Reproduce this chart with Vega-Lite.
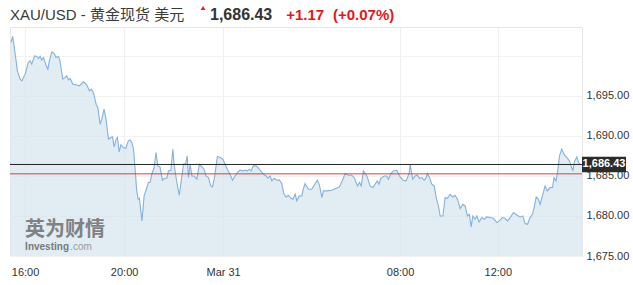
{
  "$schema": "https://vega.github.io/schema/vega-lite/v6.json",
  "width": 572,
  "height": 229,
  "autosize": "none",
  "padding": {"left": 10, "top": 27, "right": 51, "bottom": 29},
  "background": "white",
  "datasets": {
    "price": [
      {"t": -0.57, "v": 1701.68}, {"t": -0.50, "v": 1702.43}, {"t": -0.40, "v": 1700.21}, {"t": -0.31, "v": 1698.13},
      {"t": -0.20, "v": 1697.09}, {"t": -0.13, "v": 1696.88}, {"t": 0.00, "v": 1697.71}, {"t": 0.13, "v": 1699.18},
      {"t": 0.20, "v": 1699.38}, {"t": 0.27, "v": 1698.96}, {"t": 0.38, "v": 1700.00}, {"t": 0.47, "v": 1699.93},
      {"t": 0.54, "v": 1699.68}, {"t": 0.61, "v": 1699.93}, {"t": 0.67, "v": 1699.46}, {"t": 0.74, "v": 1699.80},
      {"t": 0.84, "v": 1698.88}, {"t": 0.92, "v": 1698.34}, {"t": 0.98, "v": 1699.38}, {"t": 1.08, "v": 1700.50},
      {"t": 1.17, "v": 1700.30}, {"t": 1.25, "v": 1699.80}, {"t": 1.35, "v": 1699.93}, {"t": 1.41, "v": 1699.38},
      {"t": 1.52, "v": 1697.09}, {"t": 1.62, "v": 1697.30}, {"t": 1.68, "v": 1697.50}, {"t": 1.75, "v": 1697.00},
      {"t": 1.82, "v": 1697.18}, {"t": 1.93, "v": 1696.46}, {"t": 2.06, "v": 1696.38}, {"t": 2.19, "v": 1696.25},
      {"t": 2.36, "v": 1696.75}, {"t": 2.49, "v": 1696.38}, {"t": 2.60, "v": 1695.63}, {"t": 2.67, "v": 1695.84},
      {"t": 2.76, "v": 1695.43}, {"t": 2.87, "v": 1693.96}, {"t": 2.94, "v": 1693.55}, {"t": 3.03, "v": 1691.46},
      {"t": 3.10, "v": 1692.09}, {"t": 3.19, "v": 1693.34}, {"t": 3.27, "v": 1692.09}, {"t": 3.37, "v": 1689.59},
      {"t": 3.46, "v": 1689.80}, {"t": 3.53, "v": 1689.88}, {"t": 3.60, "v": 1688.63}, {"t": 3.68, "v": 1689.59},
      {"t": 3.73, "v": 1689.80}, {"t": 3.80, "v": 1688.00}, {"t": 3.87, "v": 1688.88}, {"t": 3.97, "v": 1688.55},
      {"t": 4.07, "v": 1688.46}, {"t": 4.17, "v": 1689.38}, {"t": 4.24, "v": 1689.50}, {"t": 4.31, "v": 1689.18},
      {"t": 4.38, "v": 1688.34}, {"t": 4.44, "v": 1686.05}, {"t": 4.51, "v": 1683.13}, {"t": 4.57, "v": 1682.09},
      {"t": 4.62, "v": 1682.21}, {"t": 4.72, "v": 1679.38}, {"t": 4.81, "v": 1682.50}, {"t": 4.92, "v": 1683.55},
      {"t": 4.98, "v": 1684.18}, {"t": 5.05, "v": 1684.18}, {"t": 5.12, "v": 1685.21}, {"t": 5.21, "v": 1686.05},
      {"t": 5.29, "v": 1687.93}, {"t": 5.36, "v": 1686.25}, {"t": 5.45, "v": 1686.13}, {"t": 5.55, "v": 1684.46},
      {"t": 5.63, "v": 1684.71}, {"t": 5.73, "v": 1684.71}, {"t": 5.79, "v": 1685.63}, {"t": 5.89, "v": 1685.71},
      {"t": 5.97, "v": 1688.34}, {"t": 6.02, "v": 1686.46}, {"t": 6.10, "v": 1684.80}, {"t": 6.17, "v": 1683.55},
      {"t": 6.23, "v": 1682.59}, {"t": 6.30, "v": 1684.18}, {"t": 6.40, "v": 1686.46}, {"t": 6.49, "v": 1686.55},
      {"t": 6.55, "v": 1687.50}, {"t": 6.60, "v": 1684.80}, {"t": 6.67, "v": 1686.46}, {"t": 6.74, "v": 1685.00},
      {"t": 6.83, "v": 1685.00}, {"t": 6.94, "v": 1684.59}, {"t": 7.04, "v": 1686.46}, {"t": 7.14, "v": 1686.13},
      {"t": 7.23, "v": 1685.84}, {"t": 7.31, "v": 1685.00}, {"t": 7.41, "v": 1684.80}, {"t": 7.50, "v": 1683.75},
      {"t": 7.57, "v": 1683.63}, {"t": 7.65, "v": 1684.80}, {"t": 7.77, "v": 1687.43}, {"t": 7.88, "v": 1687.30},
      {"t": 7.99, "v": 1687.09}, {"t": 8.08, "v": 1686.46}, {"t": 8.17, "v": 1685.84}, {"t": 8.28, "v": 1685.21},
      {"t": 8.38, "v": 1684.46}, {"t": 8.48, "v": 1685.00}, {"t": 8.58, "v": 1685.43}, {"t": 8.69, "v": 1685.75},
      {"t": 8.78, "v": 1685.63}, {"t": 8.89, "v": 1685.71}, {"t": 8.98, "v": 1685.63}, {"t": 9.06, "v": 1685.84},
      {"t": 9.13, "v": 1685.63}, {"t": 9.22, "v": 1686.25}, {"t": 9.33, "v": 1686.25}, {"t": 9.43, "v": 1685.96},
      {"t": 9.52, "v": 1685.63}, {"t": 9.63, "v": 1685.21}, {"t": 9.74, "v": 1685.00}, {"t": 9.81, "v": 1684.71},
      {"t": 9.90, "v": 1685.00}, {"t": 9.97, "v": 1684.38}, {"t": 10.06, "v": 1684.71}, {"t": 10.17, "v": 1684.46},
      {"t": 10.27, "v": 1684.50}, {"t": 10.37, "v": 1684.05}, {"t": 10.46, "v": 1682.71}, {"t": 10.55, "v": 1682.38},
      {"t": 10.64, "v": 1682.59}, {"t": 10.74, "v": 1682.21}, {"t": 10.82, "v": 1682.09}, {"t": 10.91, "v": 1682.71},
      {"t": 10.98, "v": 1681.88}, {"t": 11.07, "v": 1682.50}, {"t": 11.18, "v": 1682.50}, {"t": 11.22, "v": 1683.13},
      {"t": 11.31, "v": 1684.05}, {"t": 11.45, "v": 1683.34}, {"t": 11.58, "v": 1683.34}, {"t": 11.72, "v": 1684.05},
      {"t": 11.81, "v": 1684.46}, {"t": 11.89, "v": 1683.88}, {"t": 11.99, "v": 1682.30}, {"t": 12.05, "v": 1683.13},
      {"t": 12.19, "v": 1683.13}, {"t": 12.39, "v": 1683.21}, {"t": 12.57, "v": 1683.46}, {"t": 12.70, "v": 1683.63},
      {"t": 12.84, "v": 1684.59}, {"t": 12.93, "v": 1685.30}, {"t": 13.06, "v": 1685.09}, {"t": 13.20, "v": 1685.09},
      {"t": 13.31, "v": 1684.71}, {"t": 13.43, "v": 1683.75}, {"t": 13.51, "v": 1684.18}, {"t": 13.58, "v": 1683.75},
      {"t": 13.67, "v": 1685.63}, {"t": 13.81, "v": 1685.00}, {"t": 13.94, "v": 1683.75}, {"t": 14.05, "v": 1683.55},
      {"t": 14.14, "v": 1683.96}, {"t": 14.23, "v": 1684.38}, {"t": 14.30, "v": 1683.96}, {"t": 14.37, "v": 1684.71},
      {"t": 14.51, "v": 1685.00}, {"t": 14.61, "v": 1685.00}, {"t": 14.68, "v": 1684.59}, {"t": 14.78, "v": 1685.30},
      {"t": 14.88, "v": 1685.63}, {"t": 15.02, "v": 1685.71}, {"t": 15.15, "v": 1684.88}, {"t": 15.28, "v": 1684.46},
      {"t": 15.39, "v": 1684.38}, {"t": 15.45, "v": 1684.80}, {"t": 15.52, "v": 1685.43}, {"t": 15.56, "v": 1686.46},
      {"t": 15.60, "v": 1685.63}, {"t": 15.66, "v": 1684.59}, {"t": 15.76, "v": 1685.00}, {"t": 15.85, "v": 1685.13},
      {"t": 15.93, "v": 1684.71}, {"t": 16.03, "v": 1684.80}, {"t": 16.12, "v": 1684.46}, {"t": 16.20, "v": 1684.71},
      {"t": 16.25, "v": 1685.30}, {"t": 16.34, "v": 1684.80}, {"t": 16.43, "v": 1683.96}, {"t": 16.53, "v": 1683.75},
      {"t": 16.61, "v": 1682.30}, {"t": 16.70, "v": 1681.25}, {"t": 16.77, "v": 1680.00}, {"t": 16.88, "v": 1680.00},
      {"t": 16.97, "v": 1682.30}, {"t": 17.06, "v": 1682.21}, {"t": 17.17, "v": 1682.71}, {"t": 17.28, "v": 1682.38},
      {"t": 17.37, "v": 1682.59}, {"t": 17.47, "v": 1682.09}, {"t": 17.58, "v": 1680.93}, {"t": 17.68, "v": 1681.46},
      {"t": 17.78, "v": 1681.25}, {"t": 17.87, "v": 1680.00}, {"t": 17.95, "v": 1680.21}, {"t": 18.02, "v": 1678.63},
      {"t": 18.09, "v": 1680.00}, {"t": 18.18, "v": 1679.59}, {"t": 18.25, "v": 1680.00}, {"t": 18.34, "v": 1679.25},
      {"t": 18.45, "v": 1679.80}, {"t": 18.55, "v": 1679.59}, {"t": 18.65, "v": 1679.88}, {"t": 18.79, "v": 1679.80},
      {"t": 18.92, "v": 1679.71}, {"t": 19.06, "v": 1679.18}, {"t": 19.16, "v": 1679.38}, {"t": 19.28, "v": 1679.80},
      {"t": 19.39, "v": 1679.71}, {"t": 19.49, "v": 1679.38}, {"t": 19.60, "v": 1679.80}, {"t": 19.73, "v": 1680.43},
      {"t": 19.87, "v": 1680.13}, {"t": 20.00, "v": 1679.88}, {"t": 20.11, "v": 1680.00}, {"t": 20.20, "v": 1679.05},
      {"t": 20.30, "v": 1678.96}, {"t": 20.40, "v": 1679.80}, {"t": 20.50, "v": 1680.21}, {"t": 20.58, "v": 1681.25},
      {"t": 20.65, "v": 1682.38}, {"t": 20.74, "v": 1682.09}, {"t": 20.81, "v": 1681.46}, {"t": 20.90, "v": 1682.50},
      {"t": 21.01, "v": 1683.75}, {"t": 21.10, "v": 1683.13}, {"t": 21.21, "v": 1683.55}, {"t": 21.31, "v": 1683.55},
      {"t": 21.37, "v": 1684.80}, {"t": 21.45, "v": 1684.38}, {"t": 21.51, "v": 1685.43}, {"t": 21.59, "v": 1687.50},
      {"t": 21.68, "v": 1688.34}, {"t": 21.79, "v": 1687.63}, {"t": 21.89, "v": 1687.30}, {"t": 21.99, "v": 1686.88},
      {"t": 22.13, "v": 1685.63}, {"t": 22.19, "v": 1686.75}, {"t": 22.29, "v": 1687.38}, {"t": 22.36, "v": 1686.68},
      {"t": 22.42, "v": 1686.46}, {"t": 22.50, "v": 1686.43}
    ],
    "last": [{"t": 22.5, "v": 1686.43, "label": "1,686.43"}],
    "one": [{"dummy": 1}]
  },
  "config": {
    "view": {"stroke": "#e6e6e6"},
    "font": "Liberation Sans, Noto Sans CJK SC"
  },
  "layer": [
    {
      "data": {"name": "price"},
      "mark": {"type": "area", "color": "#d6e4ee", "fillOpacity": 0.7, "clip": true},
      "encoding": {
        "x": {
          "field": "t", "type": "quantitative",
          "scale": {"domain": [-0.61, 22.5], "nice": false, "zero": false},
          "axis": {
            "values": [0, 4, 8, 15.15, 19.1],
            "labelExpr": "datum.value == 0 ? '16:00' : datum.value == 4 ? '20:00' : datum.value == 8 ? 'Mar 31' : datum.value < 16 ? '08:00' : '12:00'",
            "title": null, "ticks": false, "domain": false,
            "grid": true, "gridColor": "#efefef",
            "labelFontSize": 11, "labelColor": "#333333", "labelPadding": 10, "labelFlush": false
          }
        },
        "y": {
          "field": "v", "type": "quantitative",
          "scale": {"domain": [1675, 1703.6], "nice": false, "zero": false},
          "axis": {
            "orient": "right",
            "values": [1675, 1680, 1685, 1690, 1695, 1700],
            "labelExpr": "datum.value > 1697 ? '' : format(datum.value, ',.2f')",
            "title": null, "ticks": false, "domain": false,
            "grid": true, "gridColor": "#f2f2f2",
            "labelFontSize": 11, "labelColor": "#333333", "labelPadding": 4
          }
        }
      }
    },
    {
      "data": {"name": "price"},
      "mark": {"type": "line", "color": "#82b2dd", "strokeWidth": 1.1, "clip": true},
      "encoding": {
        "x": {"field": "t", "type": "quantitative"},
        "y": {"field": "v", "type": "quantitative"}
      }
    },
    {
      "data": {"name": "one"},
      "mark": {"type": "rule", "color": "#e03a3a", "strokeWidth": 1},
      "encoding": {"y": {"datum": 1685.26}}
    },
    {
      "data": {"name": "one"},
      "mark": {"type": "rule", "color": "#222222", "strokeWidth": 1},
      "encoding": {"y": {"datum": 1686.43}}
    },
    {
      "data": {"name": "last"},
      "mark": {"type": "point", "shape": "M0,-0.35H2V0.35H0Z", "size": 1936, "filled": true, "color": "#2b2b2b", "opacity": 1, "clip": false},
      "encoding": {
        "x": {"field": "t", "type": "quantitative"},
        "y": {"field": "v", "type": "quantitative"}
      }
    },
    {
      "data": {"name": "last"},
      "mark": {"type": "text", "color": "white", "fontWeight": "bold", "fontSize": 11, "align": "center", "dx": 22, "clip": false},
      "encoding": {
        "x": {"field": "t", "type": "quantitative"},
        "y": {"field": "v", "type": "quantitative"},
        "text": {"field": "label"}
      }
    },
    {
      "data": {"name": "one"},
      "mark": {"type": "text", "font": "Noto Sans CJK SC", "fontWeight": "bold", "fontSize": 20, "color": "#6f6f6f", "opacity": 0.85, "align": "left"},
      "encoding": {"x": {"datum": 0}, "y": {"datum": 1678.25}, "text": {"value": "英为财情"}}
    },
    {
      "data": {"name": "one"},
      "mark": {"type": "text", "fontWeight": "bold", "fontSize": 10, "color": "#6f6f6f", "opacity": 0.9, "align": "left"},
      "encoding": {"x": {"datum": 0}, "y": {"datum": 1676.1}, "text": {"value": "Investing"}}
    },
    {
      "data": {"name": "one"},
      "mark": {"type": "text", "fontSize": 10, "color": "#9a9a9a", "align": "left", "dx": 45},
      "encoding": {"x": {"datum": 0}, "y": {"datum": 1676.1}, "text": {"value": ".com"}}
    },
    {
      "data": {"name": "one"},
      "mark": {"type": "text", "fontSize": 15, "color": "#3a3a3a", "align": "left", "baseline": "alphabetic", "dy": -7, "clip": false},
      "encoding": {"x": {"datum": -0.61}, "y": {"datum": 1703.6}, "text": {"value": "XAU/USD - 黄金现货 美元"}}
    },
    {
      "data": {"name": "one"},
      "mark": {"type": "point", "shape": "triangle-up", "size": 22, "filled": true, "color": "#e4171b", "opacity": 1, "clip": false},
      "encoding": {"x": {"datum": 7.19}, "y": {"datum": 1703.6}, "yOffset": {"value": -19}}
    },
    {
      "data": {"name": "one"},
      "mark": {"type": "text", "fontWeight": "bold", "fontSize": 16, "color": "#333333", "align": "left", "baseline": "alphabetic", "dy": -7, "clip": false},
      "encoding": {"x": {"datum": 7.47}, "y": {"datum": 1703.6}, "text": {"value": "1,686.43"}}
    },
    {
      "data": {"name": "one"},
      "mark": {"type": "text", "fontWeight": "bold", "fontSize": 15, "color": "#e4171b", "align": "left", "baseline": "alphabetic", "dy": -7, "clip": false},
      "encoding": {"x": {"datum": 10.55}, "y": {"datum": 1703.6}, "text": {"value": "+1.17"}}
    },
    {
      "data": {"name": "one"},
      "mark": {"type": "text", "fontWeight": "bold", "fontSize": 15, "color": "#e4171b", "align": "left", "baseline": "alphabetic", "dy": -7, "clip": false},
      "encoding": {"x": {"datum": 12.44}, "y": {"datum": 1703.6}, "text": {"value": "(+0.07%)"}}
    }
  ]
}
